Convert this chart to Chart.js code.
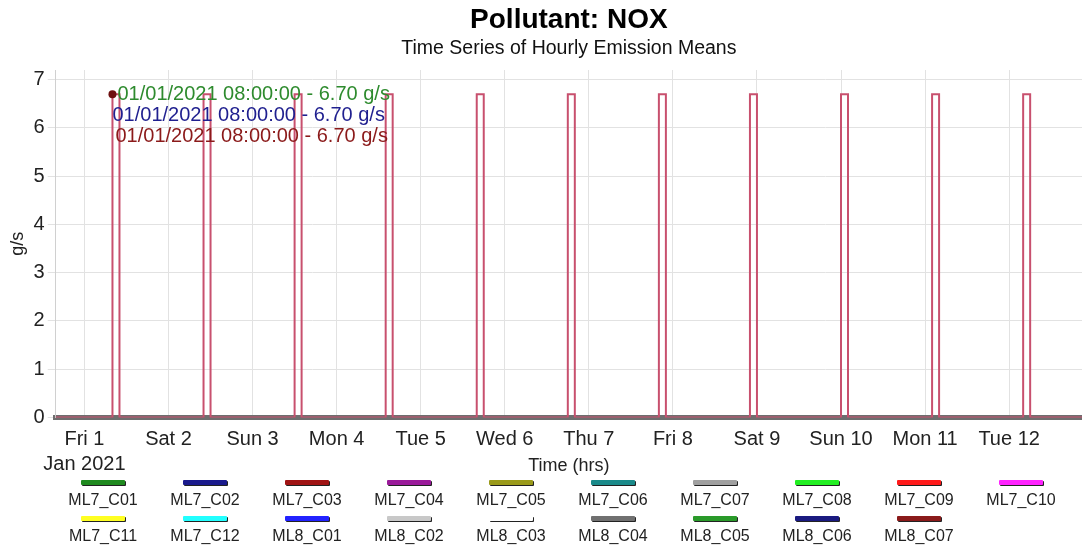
<!DOCTYPE html>
<html>
<head>
<meta charset="utf-8">
<title>Pollutant: NOX</title>
<script src="https://cdn.jsdelivr.net/npm/chart.js@4/dist/chart.umd.min.js"></script>
<style>
  html, body { margin: 0; padding: 0; background: #fff; }
  #wrap { position: relative; width: 1082px; height: 549px; font-family: "Liberation Sans", Arial, sans-serif; }
  #legend { position: absolute; left: 0; top: 480px; width: 1082px; height: 70px; }
  .item { position: absolute; width: 100px; text-align: center; font-size: 16px; line-height: 18px; color: #222; }
  .swatch { width: 44px; height: 5px; margin: 0 auto 6px; box-shadow: 1px 1px 0 #222; border-radius: 1px; }
</style>
</head>
<body>
<div id="wrap">
  <canvas id="myChart" width="1082" height="549"></canvas>
  <div id="legend"></div>
</div>
<script>
// = datos
const dayLabels = ['Fri 1', 'Sat 2', 'Sun 3', 'Mon 4', 'Tue 5', 'Wed 6', 'Thu 7', 'Fri 8', 'Sat 9', 'Sun 10', 'Mon 11', 'Tue 12'];
const dayHours = [0, 24, 48, 72, 96, 120, 144, 168, 192, 216, 240, 264];
const monthLabel = 'Jan 2021';

// hours since 01/01/2021 00:00 where the emission starts, and its value (g/s)
const pulseHours = [8, 34, 60, 86, 112, 138, 164, 190, 216, 242, 268];
const pulseValues = [6.70, 6.70, 6.70, 6.70, 6.70, 6.70, 6.70, 6.70, 6.70, 6.70, 6.70];
const pulseLength = 2;

const yTicks = [0, 1, 2, 3, 4, 5, 6, 7];

const seriesNames = ['ML7_C01', 'ML7_C02', 'ML7_C03', 'ML7_C04', 'ML7_C05', 'ML7_C06', 'ML7_C07', 'ML7_C08', 'ML7_C09', 'ML7_C10',
                     'ML7_C11', 'ML7_C12', 'ML8_C01', 'ML8_C02', 'ML8_C03', 'ML8_C04', 'ML8_C05', 'ML8_C06', 'ML8_C07'];
const seriesColors = ['#1f8a1f', '#1a1a8c', '#a01414', '#9a1a9a', '#9a9a1a', '#1a8a8a', '#a0a0a0', '#22ee22', '#ff1a1a', '#ff22ff',
                      '#ffff22', '#22ffff', '#2222ff', '#c8c8c8', '#ffffff', '#707070', '#2a9a2a', '#1a1a80', '#8a1a1a'];

// tooltip shown in the picture
const noteHour = 8;
const noteValue = 6.70;
const noteSeries = [0, 1, 2];
const noteColors = ['#2e8b2e', '#1f1f8f', '#8b1a1a'];
const noteText = '01/01/2021 08:00:00 - 6.70 g/s';

// build the stepped line from the pulses
const points = [{x: -10, y: 0}];
pulseHours.forEach((h, i) => {
    points.push({x: h, y: pulseValues[i]});
    points.push({x: h + pulseLength, y: 0});
});
points.push({x: 290, y: 0});

// Leyenda en HTML
const legend = document.getElementById('legend');
seriesNames.forEach((name, i) => {
    const row = Math.floor(i / 10);
    const col = i % 10;
    const item = document.createElement('div');
    item.className = 'item';
    item.style.left = (103 + col * 102 - 50) + 'px';
    item.style.top = (row * 36) + 'px';
    item.innerHTML = `<div class="swatch" style="background:${seriesColors[i]}"></div>${name}`;
    legend.appendChild(item);
});

const notePlugin = {
    id: 'notePlugin',
    afterDatasetsDraw(chart) {
        const ctx = chart.ctx;
        const px = chart.scales.x.getPixelForValue(noteHour);
        const py = chart.scales.y.getPixelForValue(noteValue);
        const offsets = [5, 0, 3];
        ctx.save();
        ctx.fillStyle = '#6e1010';
        ctx.beginPath();
        ctx.arc(px, py, 4, 0, Math.PI * 2);
        ctx.fill();
        ctx.font = '20px "Liberation Sans", Arial, sans-serif';
        ctx.textBaseline = 'middle';
        noteSeries.forEach((s, i) => {
            ctx.fillStyle = noteColors[i];
            ctx.fillText(noteText, px + offsets[i], py + i * 21);
        });
        ctx.restore();
    }
};

const ctx = document.getElementById('myChart').getContext('2d');
const myChart = new Chart(ctx, {
    type: 'line',
    data: {
        datasets: [{
            label: 'NOX',
            data: points,
            stepped: true,
            borderColor: '#c8506e',
            borderWidth: 2,
            pointRadius: 0,
            fill: false
        }]
    },
    options: {
        responsive: false,
        animation: false,
        layout: { padding: { left: 1, right: 0, top: 0, bottom: 72 } },
        plugins: {
            legend: { display: false },
            tooltip: { enabled: false },
            title: {
                display: true,
                fullSize: false,
                text: 'Pollutant: NOX',
                color: '#000',
                font: { family: '"Liberation Sans", Arial, sans-serif', size: 28, weight: 'bold' },
                padding: { top: 3, bottom: 0 }
            },
            subtitle: {
                display: true,
                fullSize: false,
                text: 'Time Series of Hourly Emission Means',
                color: '#111',
                font: { family: '"Liberation Sans", Arial, sans-serif', size: 19.5 },
                padding: { top: 0, bottom: 10 }
            }
        },
        scales: {
            x: {
                type: 'linear',
                min: -8.2,
                max: 284.8,
                z: 1,
                afterBuildTicks: axis => { axis.ticks = dayHours.map(v => ({value: v})); },
                ticks: {
                    autoSkip: false,
                    maxRotation: 0,
                    padding: 10,
                    color: '#222',
                    font: { family: '"Liberation Sans", Arial, sans-serif', size: 20, lineHeight: 1.25 },
                    callback: (value, index) => index === 0 ? [dayLabels[0], monthLabel] : dayLabels[index]
                },
                grid: { color: '#e2e2e2', drawTicks: false },
                border: { display: true, color: '#6e6e6e', width: 5 },
                title: {
                    display: true,
                    text: 'Time (hrs)',
                    color: '#222',
                    font: { family: '"Liberation Sans", Arial, sans-serif', size: 18 },
                    padding: { top: -32, bottom: 0 }
                }
            },
            y: {
                min: 0,
                max: 7.2,
                afterBuildTicks: axis => { axis.ticks = yTicks.map(v => ({value: v})); },
                ticks: {
                    padding: 3,
                    color: '#222',
                    font: { family: '"Liberation Sans", Arial, sans-serif', size: 20 }
                },
                grid: { color: '#e2e2e2', tickLength: 8 },
                border: { display: true, color: '#d0d0d0' },
                title: {
                    display: true,
                    text: 'g/s',
                    color: '#222',
                    font: { family: '"Liberation Sans", Arial, sans-serif', size: 18 },
                    padding: { top: 6, bottom: 2 }
                }
            }
        }
    },
    plugins: [notePlugin]
});
</script>
</body>
</html>
